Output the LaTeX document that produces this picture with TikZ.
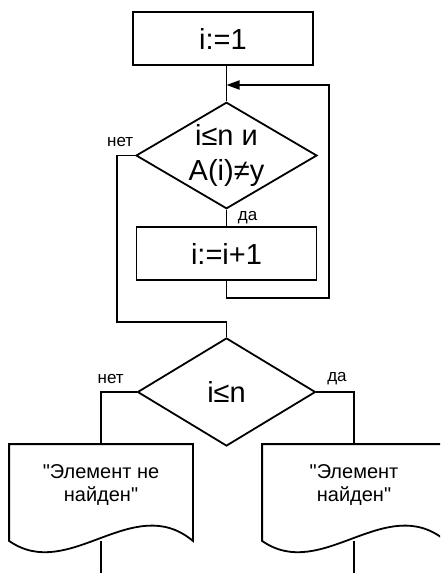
\documentclass[tikz,border=0pt]{standalone}
\usepackage{fontspec}
\setmainfont[Ligatures=TeXOff]{Liberation Sans}
\usetikzlibrary{shapes.geometric,arrows.meta}
\begin{document}
\begin{tikzpicture}[x=1pt,y=-1pt, line width=1.8pt, line join=miter,
  procbox/.style={draw, minimum width=180pt, minimum height=53pt, inner sep=0pt,
    font=\fontsize{29}{35}\selectfont},
  decision/.style={draw, shape=diamond, aspect=1.7, inner sep=0pt, align=center,
    font=\fontsize{29}{35}\selectfont},
  lbl/.style={font=\fontsize{17}{20}\selectfont, inner sep=1pt},
  docbox/.style={minimum width=182pt, minimum height=95pt, inner sep=0pt},
  doctext/.style={font=\fontsize{20}{23}\selectfont, align=center, inner sep=0pt},
  arr/.style={-{Triangle[length=13pt,width=9pt]}}]
\useasboundingbox (0,0) rectangle (440,573);
\clip (0,0) rectangle (440,573);

\node[procbox] (b1) at (223,38.5) {i:=1};
\node[decision, minimum width=179pt, minimum height=105pt] (d1) at (226.5,155.5) {i≤n и\\A(i)≠y};
\node[procbox] (b2) at (226.5,253.5) {i:=i+1};
\node[decision, minimum width=178pt, minimum height=108pt] (d2) at (226.5,392) {i≤n};

\node[docbox] (doc1) at (101,492.5) {};
\node[docbox] (doc2) at (354,492.5) {};
\foreach \d in {doc1,doc2}{
  \draw (\d.south west) -- (\d.north west) -- (\d.north east) -- (\d.south east)
    .. controls +(-60,-50) and +(60,42) .. (\d.south west) -- cycle;
}
\node[doctext] (t1) at (101,485) {\symbol{34}Элемент не\\найден\symbol{34}};
\node[doctext] (t2) at (354,485) {\symbol{34}Элемент\\найден\symbol{34}};

\coordinate (loopc) at (226.5,85);
\coordinate (lr) at (329,298);
\coordinate (n1) at (117,322);
\coordinate (j1) at (226.5,322);
\coordinate (end1) at (101,580);
\coordinate (end2) at (354,580);

\draw (d1.north |- b1.south) -- (d1.north);
\draw (d1.south) -- (b2.north);
\draw[arr] (b2.south) -- (b2.south |- lr) -- (lr) -- (lr |- loopc) -- (loopc);
\draw (d1.west) -| (n1) -- (j1) -- (d2.north);
\draw (d2.west) -| (doc1.north);
\draw (d2.east) -| (doc2.north);
\draw (doc1.south) -- (end1);
\draw (doc2.south) -- (end2);

\node[lbl, anchor=south east, yshift=6.5pt] (no1) at (d1.west) {нет};
\node[lbl, anchor=north west, xshift=9.5pt] (yes1) at (d1.south) {да};
\node[lbl, anchor=south east, xshift=-11pt, yshift=6pt] (no2) at (d2.west) {нет};
\node[lbl, anchor=south west, xshift=9pt, yshift=5.5pt] (yes2) at (d2.east) {да};
\end{tikzpicture}
\end{document}
